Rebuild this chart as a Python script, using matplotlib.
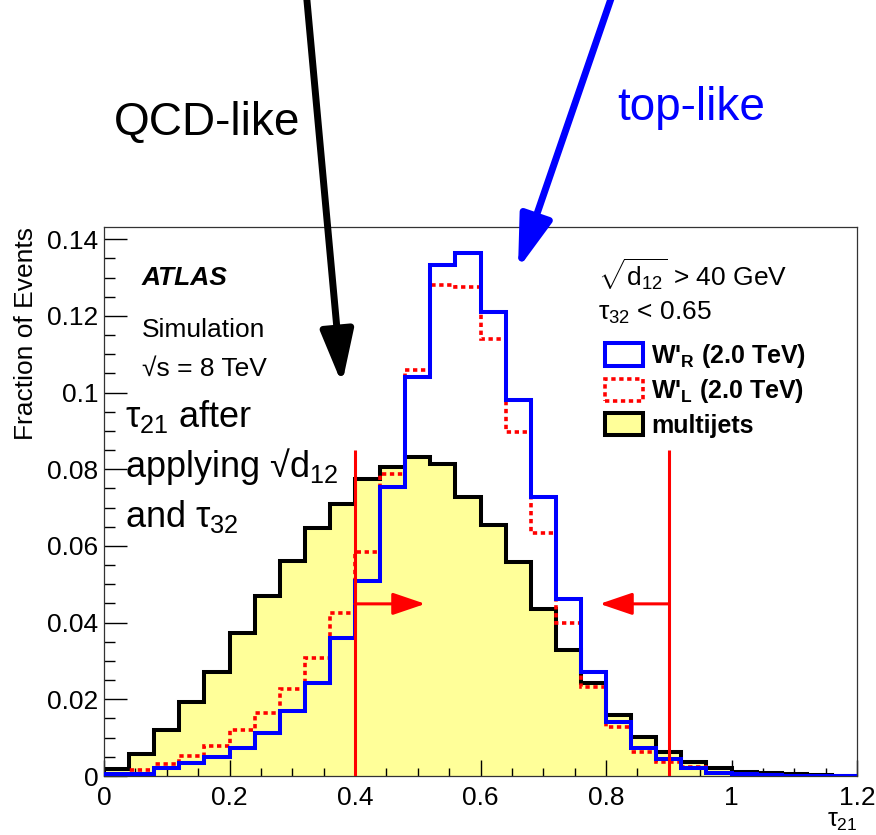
import numpy as np
import matplotlib
matplotlib.use("Agg")
import matplotlib.pyplot as plt
from matplotlib.patches import Patch
from matplotlib.ticker import MultipleLocator, FormatStrFormatter

plt.rcParams['font.family'] = ['Liberation Sans', 'DejaVu Sans']
plt.rcParams['mathtext.fontset'] = 'custom'
plt.rcParams['mathtext.rm'] = 'Liberation Sans'
plt.rcParams['mathtext.it'] = 'Liberation Sans'
plt.rcParams['mathtext.bf'] = 'Liberation Sans:bold'

# tau21 binning, 30 bins of 0.04
bin_edges = np.arange(31) * 0.04

multijets = [0.0018, 0.0057, 0.0120, 0.0194, 0.0270, 0.0372, 0.0470, 0.0560, 0.0646, 0.0709,
             0.0774, 0.0805, 0.0833, 0.0813, 0.0728, 0.0655, 0.0557, 0.0435, 0.0329, 0.0242,
             0.0159, 0.0102, 0.0063, 0.0036, 0.0020, 0.0011, 0.0007, 0.0004, 0.0002, 0.0001]
wprime_r = [0.0005, 0.0005, 0.0020, 0.0035, 0.0049, 0.0074, 0.0111, 0.0170, 0.0242, 0.0359,
            0.0508, 0.0753, 0.1041, 0.1333, 0.1365, 0.1211, 0.0982, 0.0728, 0.0461, 0.0270,
            0.0142, 0.0073, 0.0044, 0.0020, 0.0007, 0.0004, 0.0002, 0.0001, 0.0001, 0.0001]
wprime_l = [0.0005, 0.0016, 0.0030, 0.0052, 0.0078, 0.0120, 0.0165, 0.0227, 0.0307, 0.0424,
            0.0585, 0.0789, 0.1060, 0.1280, 0.1276, 0.1140, 0.0898, 0.0633, 0.0398, 0.0233,
            0.0129, 0.0063, 0.0037, 0.0024, 0.0008, 0.0004, 0.0002, 0.0001, 0.0001, 0.0001]

cut_lo, cut_hi = 0.4, 0.9
cut_height = 0.085
arrow_y = 0.0449

W, H = 876, 835
fig = plt.figure(figsize=(W / 100, H / 100), dpi=100)
ax = fig.add_axes([104 / W, 59 / H, 753 / W, 549 / H])


def px(x, y):
    # image pixel -> figure fraction
    return x / W, 1 - y / H


# histograms
ax.stairs(multijets, bin_edges, fill=True, color='#ffff99', zorder=1)
ax.stairs(multijets, bin_edges, color='black', lw=2.9, zorder=2)
ax.stairs(wprime_l, bin_edges, color='red', lw=2.6, linestyle=(0, (1.2, 1.0)), zorder=3)
ax.stairs(wprime_r, bin_edges, color='blue', lw=2.9, zorder=4)

# cut lines and arrows
ax.vlines([cut_lo, cut_hi], 0, cut_height, color='red', lw=2.2, zorder=5)
ax.annotate('', xy=(0.512, arrow_y), xytext=(cut_lo, arrow_y),
            arrowprops=dict(arrowstyle='-|>,head_length=1.0,head_width=0.34', mutation_scale=20,
                            lw=2.2, color='red', shrinkA=0, shrinkB=0), zorder=5)
ax.annotate('', xy=(0.79, arrow_y), xytext=(cut_hi, arrow_y),
            arrowprops=dict(arrowstyle='-|>,head_length=1.0,head_width=0.34', mutation_scale=20,
                            lw=2.2, color='red', shrinkA=0, shrinkB=0), zorder=5)

ax.set_xlim(0, 1.2)
ax.set_ylim(0, 0.1432)
ax.xaxis.set_major_locator(MultipleLocator(0.2))
ax.xaxis.set_minor_locator(MultipleLocator(0.05))
ax.yaxis.set_major_locator(MultipleLocator(0.02))
ax.yaxis.set_minor_locator(MultipleLocator(0.005))
ax.xaxis.set_major_formatter(FormatStrFormatter('%g'))
ax.yaxis.set_major_formatter(FormatStrFormatter('%g'))
ax.tick_params(axis='both', which='both', direction='in', top=False, right=False,
               labelsize=19, width=1, color='black')
ax.tick_params(axis='x', which='major', length=11.5, pad=7)
ax.tick_params(axis='x', which='minor', length=5.8)
ax.tick_params(axis='y', which='major', length=16.5, pad=4)
ax.tick_params(axis='y', which='minor', length=8)
for s in ax.spines.values():
    s.set_linewidth(0.9)
    s.set_color('#333333')

fig.text(*px(26, 227), 'Fraction of Events', rotation=90, ha='center', va='top', fontsize=19)
fig.text(*px(857, 833), r'$\tau_{21}$', ha='right', va='bottom', fontsize=18)

# labels inside the frame
fig.text(*px(142, 278), 'ATLAS', fontsize=19, fontweight='bold', fontstyle='italic', va='center')
fig.text(*px(142, 330), 'Simulation', fontsize=19, va='center')
fig.text(*px(142, 369), '√s = 8 TeV', fontsize=19, va='center')
fig.text(*px(125, 427), r'$\tau_{21}$ after', fontsize=26, va='baseline')
fig.text(*px(125, 477), r'applying √d$_{12}$', fontsize=26, va='baseline')
fig.text(*px(125, 527), r'and $\tau_{32}$', fontsize=26, va='baseline')

fig.text(*px(598, 287), r'$\sqrt{\mathrm{d}_{12}}$ > 40 GeV', fontsize=19, va='baseline')
fig.text(*px(598, 320), r'$\tau_{32}$ < 0.65', fontsize=19, va='baseline')

handles = [Patch(facecolor='white', edgecolor='blue', lw=2.9),
           Patch(facecolor='white', edgecolor='red', lw=2.6, linestyle=(0, (1.2, 1.0))),
           Patch(facecolor='#ffff99', edgecolor='black', lw=2.9)]
labels = [r"W'$_{\mathbf{R}}$ (2.0 TeV)", r"W'$_{\mathbf{L}}$ (2.0 TeV)", 'multijets']
fig.legend(handles, labels, loc='upper left', bbox_to_anchor=px(605, 342), frameon=False,
           prop={'size': 18, 'weight': 'bold'}, handlelength=1.5, handleheight=1.0,
           handletextpad=0.35, labelspacing=0.3, borderpad=0, borderaxespad=0)

# QCD-like / top-like pointers outside the frame
fig.text(*px(207, 123), 'QCD-like', fontsize=33, ha='center', va='center')
fig.text(*px(691, 108), 'top-like', fontsize=33, ha='center', va='center', color='blue')
ax.annotate('', xy=(342, H - 384), xytext=(306, H + 10), xycoords='figure pixels',
            textcoords='figure pixels', annotation_clip=False,
            arrowprops=dict(arrowstyle='-|>,head_length=1.6,head_width=0.5', mutation_scale=20,
                            lw=5, color='black', shrinkA=0, shrinkB=0))
ax.annotate('', xy=(518, H - 269), xytext=(614, H + 10), xycoords='figure pixels',
            textcoords='figure pixels', annotation_clip=False,
            arrowprops=dict(arrowstyle='-|>,head_length=1.6,head_width=0.5', mutation_scale=20,
                            lw=5, color='blue', shrinkA=0, shrinkB=0))

fig.savefig('out.png', dpi=100)
